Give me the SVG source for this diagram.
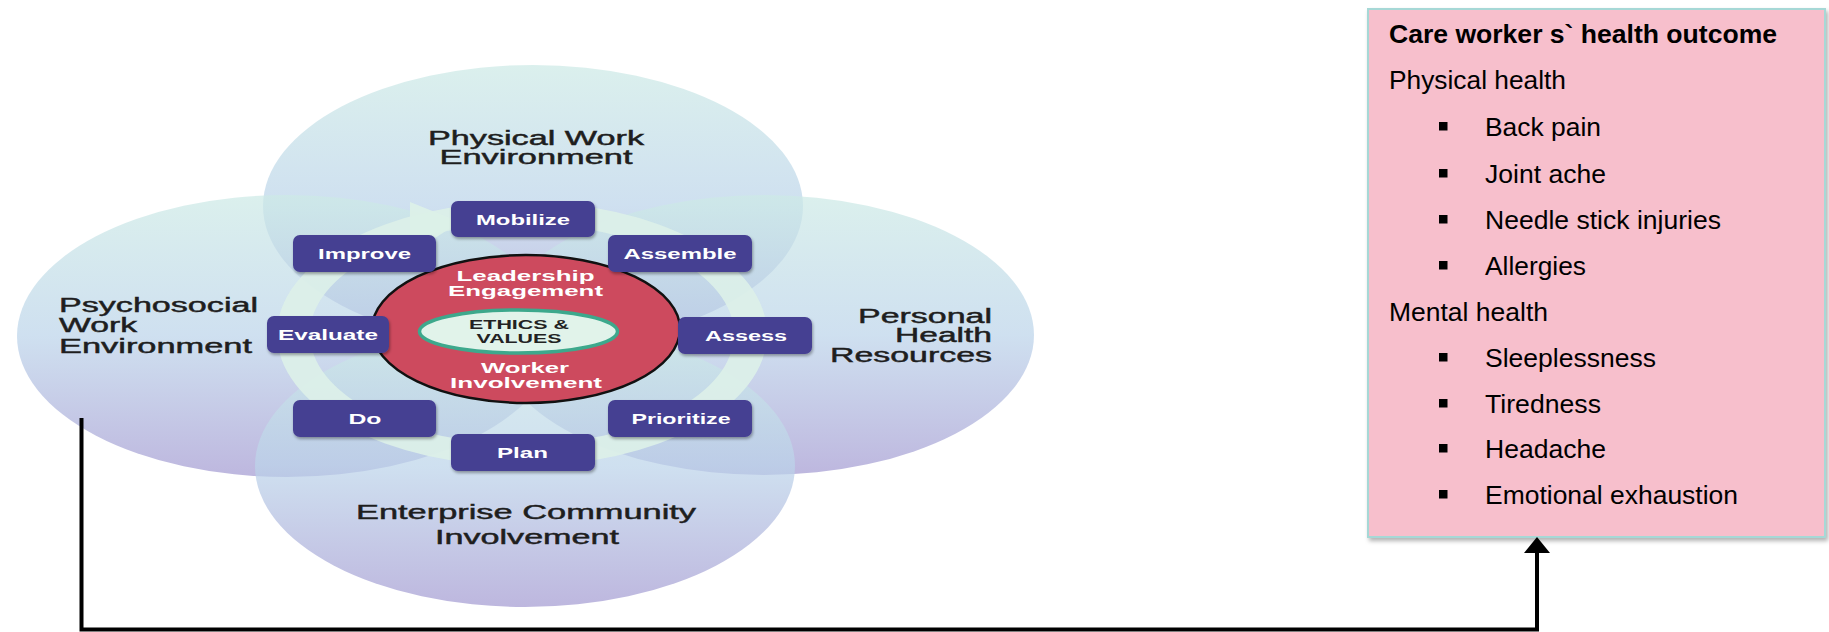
<svg xmlns="http://www.w3.org/2000/svg" width="1829" height="632" viewBox="0 0 1829 632">
<defs>
<linearGradient id="eg" x1="0" y1="0" x2="0" y2="1">
<stop offset="0" stop-color="#cdeae6"/>
<stop offset="0.5" stop-color="#bcd4ea"/>
<stop offset="1" stop-color="#a49bd2"/>
</linearGradient>
<filter id="sh" x="-10%" y="-20%" width="130%" height="160%">
<feDropShadow dx="1" dy="2" stdDeviation="1.5" flood-color="#000" flood-opacity="0.35"/>
</filter>
<filter id="psh" x="-5%" y="-5%" width="110%" height="110%">
<feDropShadow dx="2" dy="3" stdDeviation="2" flood-color="#000" flood-opacity="0.3"/>
</filter>
<style>
.ell{fill:url(#eg);fill-opacity:0.72}
.lbl{font-family:"Liberation Sans",Arial,sans-serif;font-size:20px;fill:#1e1e1e;stroke:#1e1e1e;stroke-width:0.45}
.box{fill:#453f92;filter:url(#sh)}
.bt{font-family:"Liberation Sans",Arial,sans-serif;font-size:14px;font-weight:bold;fill:#ffffff;text-anchor:middle}
.ct{font-family:"Liberation Sans",Arial,sans-serif;font-size:14px;font-weight:bold;fill:#ffffff;text-anchor:middle}
.et{font-family:"Liberation Sans",Arial,sans-serif;font-size:13px;font-weight:bold;fill:#222222;text-anchor:middle}
.pt{font-family:"Liberation Sans",Arial,sans-serif;font-size:26px;fill:#000000}
.bul{fill:#000000}
.conn{fill:none;stroke:#000000;stroke-width:4}
</style>
</defs>

<g id="ellipses">
<ellipse id="ell-physical" class="ell" cx="533" cy="206" rx="270" ry="141"/>
<ellipse id="ell-psychosocial" class="ell" cx="287" cy="336" rx="270" ry="141"/>
<ellipse id="ell-personal" class="ell" cx="764" cy="335" rx="270" ry="140"/>
<ellipse id="ell-enterprise" class="ell" cx="525" cy="466" rx="270" ry="141"/>
</g>

<g id="ellipse-labels">
<text class="lbl" x="536" y="145" text-anchor="middle" font-size="17" textLength="216" lengthAdjust="spacingAndGlyphs">Physical Work</text>
<text class="lbl" x="536" y="164" text-anchor="middle" font-size="17" textLength="193" lengthAdjust="spacingAndGlyphs">Environment</text>
<text class="lbl" x="59" y="312" textLength="199" lengthAdjust="spacingAndGlyphs">Psychosocial</text>
<text class="lbl" x="59" y="332" textLength="78" lengthAdjust="spacingAndGlyphs">Work</text>
<text class="lbl" x="59" y="353" textLength="193" lengthAdjust="spacingAndGlyphs">Environment</text>
<text class="lbl" x="992" y="323" text-anchor="end" textLength="134" lengthAdjust="spacingAndGlyphs">Personal</text>
<text class="lbl" x="992" y="342" text-anchor="end" textLength="97" lengthAdjust="spacingAndGlyphs">Health</text>
<text class="lbl" x="992" y="362" text-anchor="end" textLength="162" lengthAdjust="spacingAndGlyphs">Resources</text>
<text class="lbl" x="526" y="519" text-anchor="middle" textLength="340" lengthAdjust="spacingAndGlyphs">Enterprise Community</text>
<text class="lbl" x="527" y="544" text-anchor="middle" textLength="184" lengthAdjust="spacingAndGlyphs">Involvement</text>
</g>

<g id="cycle-ring">
<path fill="#dcf0e8" fill-opacity="0.92" fill-rule="evenodd" d="M277 334 A245 132 0 1 0 767 334 A245 132 0 1 0 277 334 Z M310 334 A212 110 0 1 0 734 334 A212 110 0 1 0 310 334 Z"/>
<polygon fill="#dcf0e8" fill-opacity="0.95" points="410,202 460,222 410,254"/>
</g>

<g id="core">
<ellipse cx="526" cy="329" rx="154" ry="74" fill="#cd4a5e" stroke="#111111" stroke-width="2.5"/>
<text class="ct" x="525.5" y="281" textLength="138" lengthAdjust="spacingAndGlyphs">Leadership</text>
<text class="ct" x="525.5" y="296" textLength="155" lengthAdjust="spacingAndGlyphs">Engagement</text>
<text class="ct" x="525" y="373" textLength="88" lengthAdjust="spacingAndGlyphs">Worker</text>
<text class="ct" x="526" y="388" textLength="152" lengthAdjust="spacingAndGlyphs">Involvement</text>
</g>

<g id="ethics-values">
<ellipse cx="518.5" cy="331.5" rx="99" ry="21.5" fill="#e1f3ea" stroke="#3da88c" stroke-width="3.5"/>
<text class="et" x="519" y="329" textLength="100" lengthAdjust="spacingAndGlyphs">ETHICS &amp;</text>
<text class="et" x="519" y="343" textLength="85" lengthAdjust="spacingAndGlyphs">VALUES</text>
</g>

<g id="mobilize"><rect class="box" x="451" y="201" width="144" height="36" rx="7"/><text class="bt" x="523" y="224.5" textLength="94" lengthAdjust="spacingAndGlyphs">Mobilize</text></g>
<g id="improve"><rect class="box" x="293" y="235" width="143" height="37" rx="7"/><text class="bt" x="364.5" y="258.5" textLength="93" lengthAdjust="spacingAndGlyphs">Improve</text></g>
<g id="assemble"><rect class="box" x="608" y="235" width="144" height="37" rx="7"/><text class="bt" x="680" y="258.5" textLength="113" lengthAdjust="spacingAndGlyphs">Assemble</text></g>
<g id="evaluate"><rect class="box" x="267" y="316" width="122" height="37" rx="7"/><text class="bt" x="328" y="339.5" textLength="100" lengthAdjust="spacingAndGlyphs">Evaluate</text></g>
<g id="assess"><rect class="box" x="678" y="317" width="134" height="37" rx="7"/><text class="bt" x="746" y="340.5" textLength="82" lengthAdjust="spacingAndGlyphs">Assess</text></g>
<g id="do"><rect class="box" x="293" y="400" width="143" height="37" rx="7"/><text class="bt" x="365" y="423.5" textLength="33" lengthAdjust="spacingAndGlyphs">Do</text></g>
<g id="prioritize"><rect class="box" x="608" y="400" width="144" height="37" rx="7"/><text class="bt" x="681" y="423.5" textLength="99" lengthAdjust="spacingAndGlyphs">Prioritize</text></g>
<g id="plan"><rect class="box" x="451" y="434" width="144" height="37" rx="7"/><text class="bt" x="522.5" y="457.5" textLength="51" lengthAdjust="spacingAndGlyphs">Plan</text></g>

<g id="health-outcome">
<rect x="1368" y="9" width="457" height="528" fill="#f7bfcc" stroke="#a6d8d6" stroke-width="2" filter="url(#psh)"/>
<text class="pt" x="1389" y="43" font-weight="bold" textLength="388" lengthAdjust="spacingAndGlyphs">Care worker s` health outcome</text>
<text class="pt" x="1389" y="89" textLength="177" lengthAdjust="spacingAndGlyphs">Physical health</text>
<rect class="bul" x="1439" y="122" width="8.5" height="8.5"/>
<text class="pt" x="1485" y="136" textLength="116" lengthAdjust="spacingAndGlyphs">Back pain</text>
<rect class="bul" x="1439" y="169" width="8.5" height="8.5"/>
<text class="pt" x="1485" y="183" textLength="121" lengthAdjust="spacingAndGlyphs">Joint ache</text>
<rect class="bul" x="1439" y="215" width="8.5" height="8.5"/>
<text class="pt" x="1485" y="229" textLength="236" lengthAdjust="spacingAndGlyphs">Needle stick injuries</text>
<rect class="bul" x="1439" y="261" width="8.5" height="8.5"/>
<text class="pt" x="1485" y="275" textLength="101" lengthAdjust="spacingAndGlyphs">Allergies</text>
<text class="pt" x="1389" y="321" textLength="159" lengthAdjust="spacingAndGlyphs">Mental health</text>
<rect class="bul" x="1439" y="353" width="8.5" height="8.5"/>
<text class="pt" x="1485" y="367" textLength="171" lengthAdjust="spacingAndGlyphs">Sleeplessness</text>
<rect class="bul" x="1439" y="399" width="8.5" height="8.5"/>
<text class="pt" x="1485" y="413" textLength="116" lengthAdjust="spacingAndGlyphs">Tiredness</text>
<rect class="bul" x="1439" y="444" width="8.5" height="8.5"/>
<text class="pt" x="1485" y="458" textLength="121" lengthAdjust="spacingAndGlyphs">Headache</text>
<rect class="bul" x="1439" y="490" width="8.5" height="8.5"/>
<text class="pt" x="1485" y="504" textLength="253" lengthAdjust="spacingAndGlyphs">Emotional exhaustion</text>
</g>

<g id="connectors">
<path class="conn" d="M81.5 418 V629.5 H1537 V552"/>
<polygon fill="#000000" points="1537,537 1524,553 1550,553"/>
</g>
</svg>
